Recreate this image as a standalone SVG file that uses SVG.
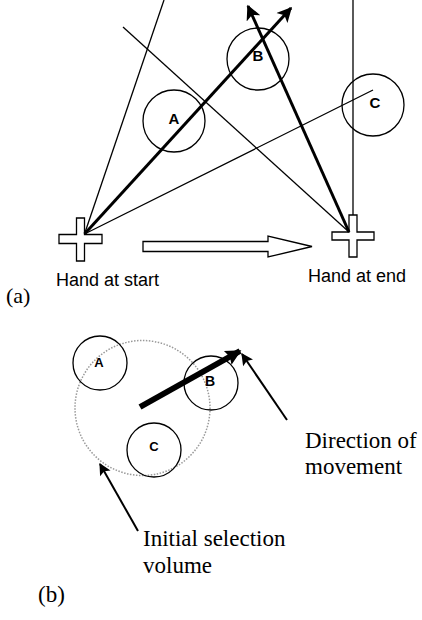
<svg xmlns="http://www.w3.org/2000/svg" width="422" height="620" viewBox="0 0 422 620">
<defs>
<style>
.thin{stroke:#000;stroke-width:1.3;fill:none}
.thick{stroke:#000;stroke-width:3;fill:none}
.circ{stroke:#000;stroke-width:1.3;fill:none}
.lbl{font-family:"Liberation Sans",Arial,sans-serif;font-weight:bold;font-size:15px;text-anchor:middle;fill:#000}
.sans{font-family:"Liberation Sans",Arial,sans-serif;font-size:18px;fill:#000}
.serif{font-family:"Liberation Serif","Times New Roman",serif;font-size:23px;fill:#000}
.cross{stroke:#000;stroke-width:1.3;fill:#fff}
</style>
<marker id="ah" viewBox="0 0 10 10" refX="9" refY="5" markerWidth="5.5" markerHeight="5" orient="auto" markerUnits="strokeWidth">
<path d="M0,0 L10,5 L0,10 L2.5,5 Z" fill="#000"/>
</marker>
<marker id="ahb" viewBox="0 0 10 10" refX="9" refY="5" markerWidth="3.6" markerHeight="2.6" orient="auto" markerUnits="strokeWidth">
<path d="M0,0 L10,5 L0,10 L1.5,5 Z" fill="#000"/>
</marker>
<marker id="aht" viewBox="0 0 10 10" refX="9" refY="5" markerWidth="7" markerHeight="6" orient="auto" markerUnits="strokeWidth">
<path d="M0,0 L10,5 L0,10 L2,5 Z" fill="#000"/>
</marker>
</defs>

<g id="hand-start">
<path class="cross" d="M76.5,218 H84.5 V234.5 H102 V243.5 H84.5 V261 H76.5 V243.5 H59 V234.5 H76.5 Z"/>
<text class="sans" x="56" y="286">Hand at start</text>
</g>
<g id="hand-end">
<path class="cross" d="M349,215 H357 V232 H374 V240 H357 V257 H349 V240 H332 V232 H349 Z"/>
<text class="sans" x="308" y="282">Hand at end</text>
</g>
<g id="move-arrow">
<path class="cross" d="M143,241.5 H268 V236 L312,246.5 L268,257 V251.5 H143 Z"/>
</g>

<g id="a-A">
<circle class="circ" cx="174" cy="121" r="31"/>
<text class="lbl" x="174" y="124">A</text>
</g>
<g id="a-B">
<circle class="circ" cx="258" cy="59" r="31"/>
<text class="lbl" x="258" y="61">B</text>
</g>
<g id="a-C">
<circle class="circ" cx="373" cy="105" r="31"/>
<text class="lbl" x="375" y="108">C</text>
</g>

<g id="connectors-a">
<line class="thin" x1="84.5" y1="234" x2="164" y2="0"/>
<line class="thin" x1="84.5" y1="234" x2="373" y2="90"/>
<line class="thick" x1="84.5" y1="234" x2="291" y2="8" marker-end="url(#ah)"/>
<line class="thin" x1="349" y1="232" x2="123" y2="27"/>
<line class="thick" x1="349" y1="232" x2="248" y2="6" marker-end="url(#ah)"/>
<line class="thin" x1="353" y1="0" x2="353" y2="215"/>
</g>

<text class="serif" x="6" y="303" style="font-size:22px">(a)</text>

<g id="b-volume">
<circle cx="142.5" cy="408" r="67.5" fill="none" stroke="#999" stroke-width="1.5" stroke-dasharray="1.5 1.5"/>
</g>
<g id="b-A">
<circle class="circ" cx="100" cy="363" r="27"/>
<text class="lbl" x="99" y="367" style="font-size:13px">A</text>
</g>
<g id="b-B">
<circle class="circ" cx="211" cy="383" r="27"/>
<text class="lbl" x="210" y="386" style="font-size:14px">B</text>
</g>
<g id="b-C">
<circle class="circ" cx="154" cy="450" r="27"/>
<text class="lbl" x="154" y="451" style="font-size:13px">C</text>
</g>

<g id="connectors-b">
<line x1="140" y1="407" x2="240" y2="351" stroke="#000" stroke-width="6" marker-end="url(#ahb)"/>
<line x1="287" y1="420" x2="242" y2="354" stroke="#000" stroke-width="2" marker-end="url(#aht)"/>
<line x1="138" y1="531" x2="100" y2="464" stroke="#000" stroke-width="2" marker-end="url(#aht)"/>
</g>

<g id="labels-b">
<text class="serif" x="305" y="448">Direction of</text>
<text class="serif" x="305" y="474">movement</text>
<text class="serif" x="143" y="546">Initial selection</text>
<text class="serif" x="143" y="573">volume</text>
<text class="serif" x="38" y="602">(b)</text>
</g>
</svg>
